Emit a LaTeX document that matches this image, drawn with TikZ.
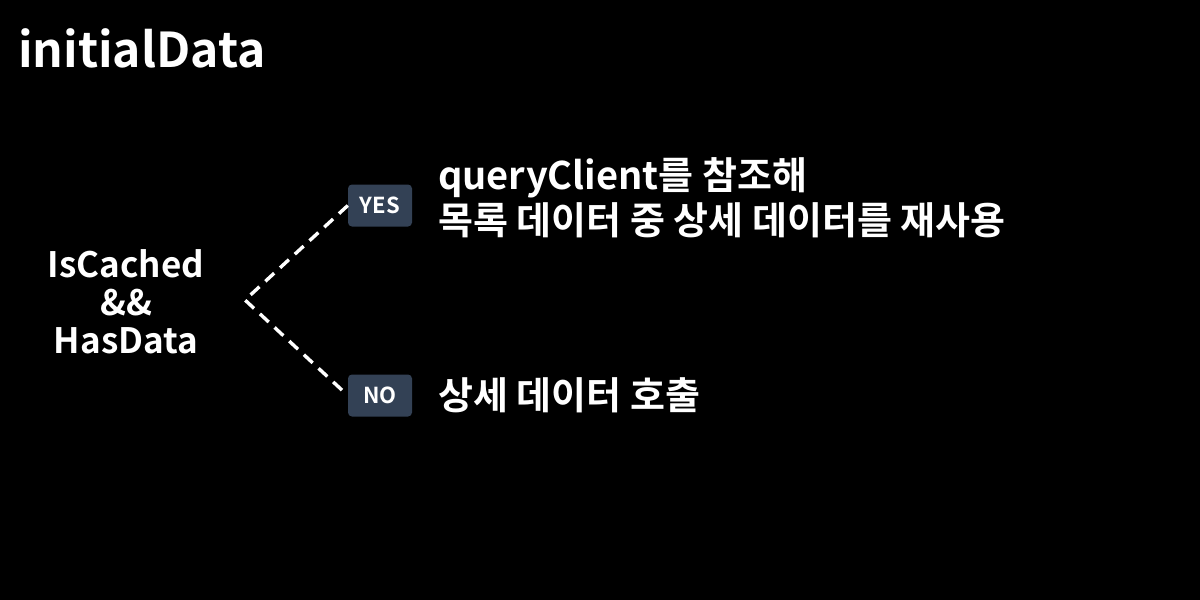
\documentclass[tikz,border=0pt]{standalone}
\usepackage{fontspec}
\setmainfont{Noto Sans CJK KR}[BoldFont={* Bold}]
\definecolor{boxfill}{HTML}{334155}
\begin{document}
\begin{tikzpicture}[x=1pt,y=-1pt,
  txt/.style={text=white,font=\bfseries,inner sep=0pt},
  tag/.style={fill=boxfill,rounded corners=4pt,minimum width=64pt,minimum height=42pt,text=white,font=\bfseries\fontsize{22}{26}\selectfont,inner sep=0pt},
  conn/.style={draw=white,line width=3.4pt,dash pattern=on 12pt off 8pt}]
\fill[black] (0,0) rectangle (1200,600);
\useasboundingbox (0,0) rectangle (1200,600);
\node[txt,anchor=base west,font=\bfseries\fontsize{48}{56}\selectfont] (title) at (18,67) {initialData};
\node[txt,align=center,font=\bfseries\fontsize{35}{38}\selectfont] (cond) at (126,302) {IsCached\\\&\&\\HasData};
\coordinate (apex) at (245,300);
\node[tag] (yes) at (380,205.5) {YES};
\node[tag] (no) at (380,395.5) {NO};
\draw[conn] (yes.west) -- (apex) -- (no.west);
\node[txt,anchor=west,align=left,font=\bfseries\fontsize{38}{45}\selectfont] (ytext) at (438,197.5) {queryClient를 참조해\\목록 데이터 중 상세 데이터를 재사용};
\node[txt,anchor=west,font=\bfseries\fontsize{38}{45}\selectfont] (ntext) at (438,395) {상세 데이터 호출};
\end{tikzpicture}
\end{document}
